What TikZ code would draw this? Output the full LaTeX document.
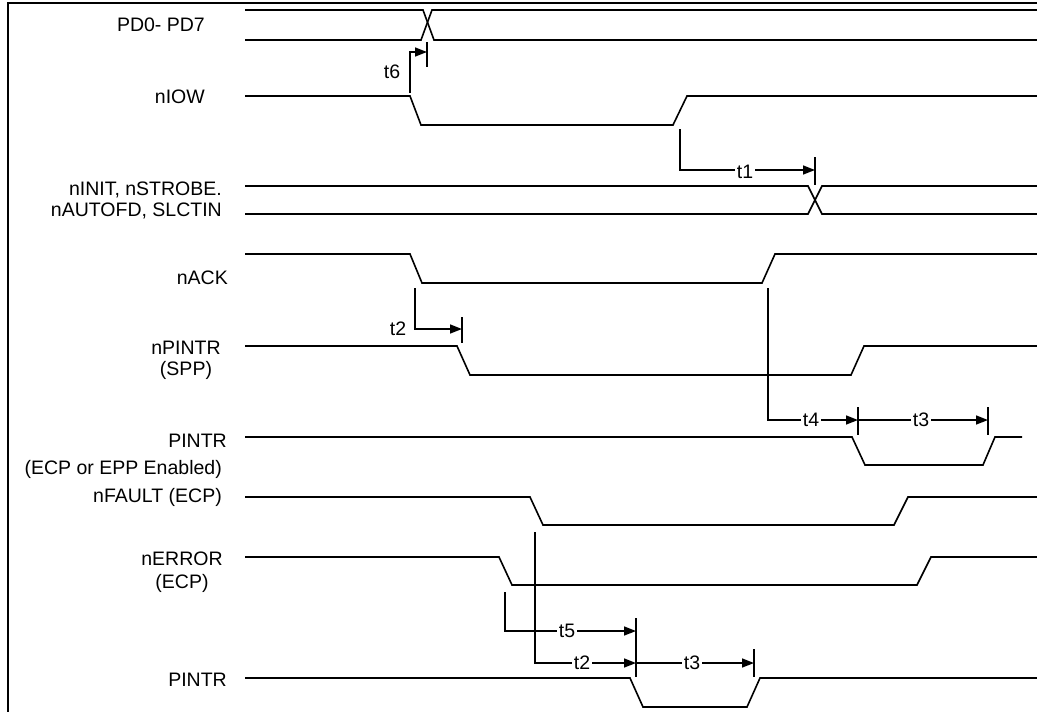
\documentclass[tikz,border=0pt]{standalone}
\usepackage{fontspec}
\setmainfont{Liberation Sans}
\usetikzlibrary{arrows.meta}
\tikzset{
  wave line/.style={line width=1.6pt,line join=miter},
  time arrow/.style={-{Triangle[length=12pt,width=9pt]},line width=1.6pt},
  time bar/.style={line width=1.9pt},
  sig label/.style={font=\fontsize{19.5}{21}\selectfont,inner sep=0pt},
  time label/.style={font=\fontsize{19.5}{21}\selectfont,fill=white,inner xsep=2pt,inner ysep=0pt}
}

\begin{document}
\begin{tikzpicture}[x=1pt,y=-1pt]
  \useasboundingbox (0,0) rectangle (1037,712);
  \draw[line width=2pt] (8,712) -- (8,3) -- (1037,3);

  % signal names
  \node[sig label,anchor=east] (pd) at (205,25) {PD0- PD7};
  \node[sig label,anchor=east] (niow) at (205,97) {nIOW};
  \node[sig label,anchor=base east] (ninit) at (222,195) {nINIT, nSTROBE.};
  \node[sig label,anchor=base east] (nauto) at (222,216) {nAUTOFD, SLCTIN};
  \node[sig label,anchor=east] (nack) at (228,278) {nACK};
  \node[sig label,align=center] (npintr) at (186,360) {nPINTR\\(SPP)};
  \node[sig label,anchor=east] (pintra) at (227,441) {PINTR};
  \node[sig label,anchor=east] (ecpepp) at (222,469) {(ECP or EPP Enabled)};
  \node[sig label,anchor=east] (nfault) at (222,497) {nFAULT (ECP)};
  \node[sig label,align=center] (nerror) at (182,572) {nERROR\\[2pt](ECP)};
  \node[sig label,anchor=east] (pintrb) at (227,680) {PINTR};

  % waveforms
  \draw[wave line] (245,10) -- (423,10) -- (434,40) -- (1037,40);
  \draw[wave line] (245,40) -- (421,40) -- (432,10) -- (1037,10);
  \draw[wave line] (245,96) -- (410,96) -- (421,125) -- (673,125) -- (687,96) -- (1037,96);
  \draw[wave line] (245,186) -- (808,186) -- (822,214) -- (1037,214);
  \draw[wave line] (245,214) -- (808,214) -- (822,186) -- (1037,186);
  \draw[wave line] (245,254) -- (410,254) -- (422,283) -- (762,283) -- (775,254) -- (1037,254);
  \draw[wave line] (245,346) -- (457,346) -- (470,375) -- (851,375) -- (864,346) -- (1037,346);
  \draw[wave line] (245,437) -- (852,437) -- (865,465) -- (983,465) -- (995,437) -- (1022,437);
  \draw[wave line] (245,497) -- (530,497) -- (543,525) -- (894,525) -- (908,497) -- (1037,497);
  \draw[wave line] (245,557) -- (499,557) -- (512,585) -- (917,585) -- (931,557) -- (1037,557);
  \draw[wave line] (245,678) -- (630,678) -- (643,707) -- (747,707) -- (760,678) -- (1037,678);

  % edge points and limits of the timings
  \coordinate (iowfall) at (410,93);
  \coordinate (pdcross) at (427,52);
  \coordinate (iowrise) at (680,129);
  \coordinate (initcross) at (815,170);
  \coordinate (ackfall) at (415,288);
  \coordinate (pintrfall) at (462,329);
  \coordinate (ackrise) at (768,288);
  \coordinate (pintrhigh) at (858,420);
  \coordinate (pintrend) at (988,420);
  \coordinate (errfall) at (505,592);
  \coordinate (faultfall) at (535,532);
  \coordinate (pintrlow) at (636,631);
  \coordinate (pintrback) at (754,663);

  % timings
  \draw[time arrow] (iowfall) |- (pdcross);
  \draw[time bar] ([yshift=10pt]pdcross) -- ([yshift=-15pt]pdcross);
  \node[sig label] (tsix) at (392,72) {t6};

  \draw[time arrow] (iowrise) |- (initcross);
  \draw[time bar] ([yshift=13pt]initcross) -- ([yshift=-15pt]initcross);
  \node[time label] (tone) at (745,172) {t1};

  \draw[time arrow] (ackfall) |- (pintrfall);
  \draw[time bar] ([yshift=12pt]pintrfall) -- ([yshift=-14pt]pintrfall);
  \node[sig label] (ttwo) at (398,329) {t2};

  \draw[time arrow] (ackrise) |- (pintrhigh);
  \draw[time arrow] (pintrhigh) -- (pintrend);
  \draw[time bar] ([yshift=13pt]pintrhigh) -- ([yshift=-15pt]pintrhigh);
  \draw[time bar] ([yshift=13pt]pintrend) -- ([yshift=-15pt]pintrend);
  \node[time label] (tfour) at (811,420) {t4};
  \node[time label] (tthree) at (921,420) {t3};

  \draw[time arrow] (errfall) |- (pintrlow);
  \draw[time arrow] (faultfall) |- (pintrlow |- pintrback);
  \draw[time arrow] (pintrlow |- pintrback) -- (pintrback);
  \draw[time bar] ([yshift=13pt]pintrlow) -- (636,677);
  \draw[time bar] ([yshift=14pt]pintrback) -- ([yshift=-14pt]pintrback);
  \node[time label] (tfive) at (567,631) {t5};
  \node[time label] (ttwob) at (582,663) {t2};
  \node[time label] (tthreeb) at (692,663) {t3};
\end{tikzpicture}
\end{document}
